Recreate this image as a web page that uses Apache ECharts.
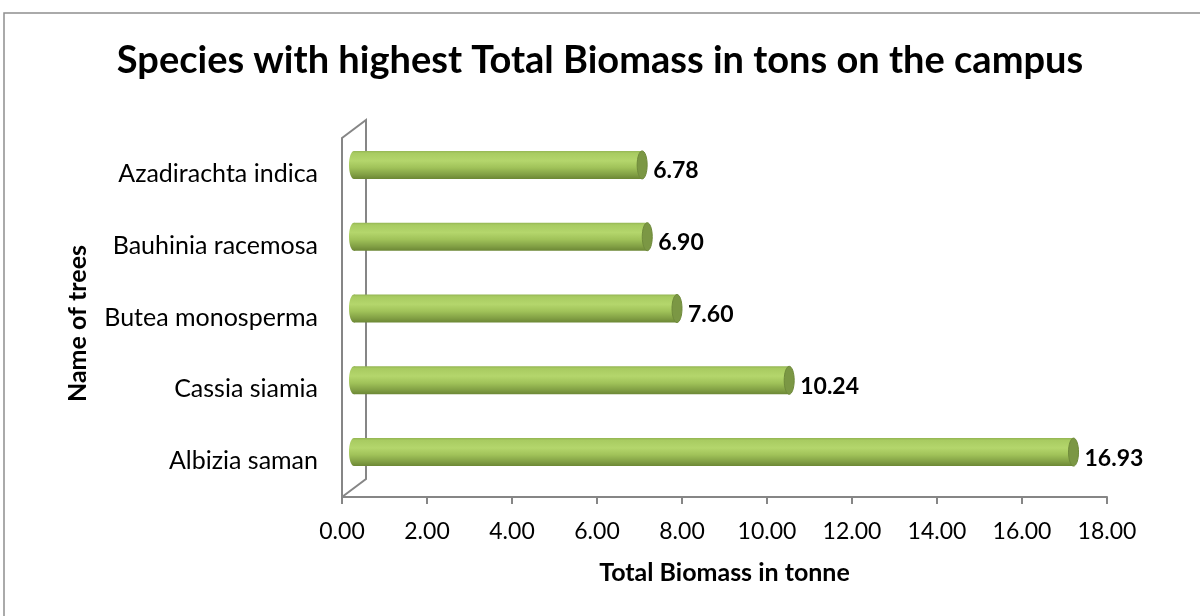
<!DOCTYPE html>
<html>
<head>
<meta charset="utf-8">
<title>Species with highest Total Biomass</title>
<script src="https://cdn.jsdelivr.net/npm/echarts@6/dist/echarts.min.js"></script>
<style>
  html, body { margin: 0; padding: 0; background: #fff; }
  #chart { width: 1200px; height: 616px; }
</style>
</head>
<body>
<div id="chart"></div>
<script>
// Tree species (bottom to top) and their total biomass in tonnes
const species = ['Albizia saman', 'Cassia siamia', 'Butea monosperma', 'Bauhinia racemosa', 'Azadirachta indica'];
const biomass = [16.93, 10.24, 7.60, 6.90, 6.78];
const titleText = 'Species with highest Total Biomass in tons on the campus';
const xAxisTitle = 'Total Biomass in tonne';
const yAxisTitle = 'Name of trees';

const FONT = 'Lato, "Open Sans", sans-serif';
const GRID = { left: 342, right: 93, top: 138, bottom: 119 };
// depth of the pseudo-3D wall (back plane offset in px)
const DEPTH_X = 24, DEPTH_Y = -18;
const BAR_H = 28, CAP_RX = 5;

const chart = echarts.init(document.getElementById('chart'), null, { renderer: 'canvas' });

const bodyGradient = new echarts.graphic.LinearGradient(0, 0, 0, 1, [
  { offset: 0, color: '#94b553' },
  { offset: 0.08, color: '#a8cb61' },
  { offset: 0.35, color: '#b4d66c' },
  { offset: 0.6, color: '#a0c259' },
  { offset: 0.85, color: '#819f44' },
  { offset: 1, color: '#6c8735' }
]);

function renderCylinder(params, api) {
  const idx = api.value(0);
  const val = api.value(1);
  const start = api.coord([0, idx]);
  const end = api.coord([val, idx]);
  const dx = DEPTH_X / 2, dy = DEPTH_Y / 2;
  const x0 = start[0] + dx, x1 = end[0] + dx;
  const cy = start[1] + dy;
  const ry = BAR_H / 2;
  return {
    type: 'group',
    children: [
      { type: 'ellipse', shape: { cx: x0, cy: cy, rx: CAP_RX, ry: ry }, style: { fill: bodyGradient } },
      { type: 'rect', shape: { x: x0, y: cy - ry, width: x1 - x0, height: BAR_H }, style: { fill: bodyGradient } },
      { type: 'ellipse', shape: { cx: x1, cy: cy, rx: CAP_RX, ry: ry },
        style: { fill: '#7b9744', stroke: '#6f8a3b', lineWidth: 1 } },
      { type: 'text', x: x1 + CAP_RX + 6, y: cy + 6,
        style: { text: val.toFixed(2), fill: '#000', font: 'bold 23px ' + FONT,
                 textAlign: 'left', textVerticalAlign: 'middle' } }
    ]
  };
}

const option = {
  animation: false,
  backgroundColor: '#ffffff',
  title: {
    text: titleText,
    left: 'center',
    top: 37,
    textStyle: { fontFamily: FONT, fontWeight: 'bold', fontSize: 38, color: '#000' }
  },
  grid: GRID,
  xAxis: {
    type: 'value',
    min: 0, max: 18, interval: 2,
    name: xAxisTitle,
    nameLocation: 'middle',
    nameGap: 63,
    nameTextStyle: { fontFamily: FONT, fontWeight: 'bold', fontSize: 25, color: '#000' },
    axisLine: { show: true, lineStyle: { color: '#868686', width: 2 } },
    axisTick: { show: true, length: 7, lineStyle: { color: '#868686', width: 2 } },
    axisLabel: { fontFamily: FONT, fontSize: 23, color: '#000', margin: 23,
                 formatter: v => v.toFixed(2) },
    splitLine: { show: false }
  },
  yAxis: {
    type: 'category',
    data: species,
    name: yAxisTitle,
    nameLocation: 'middle',
    nameRotate: 90,
    nameGap: 252,
    nameTextStyle: { fontFamily: FONT, fontWeight: 'bold', fontSize: 25, color: '#000',
                     padding: [0, 12, 0, 0] },
    axisLine: { show: true, lineStyle: { color: '#868686', width: 2 } },
    axisTick: { show: false },
    axisLabel: { fontFamily: FONT, fontSize: 25, color: '#000', margin: 24 },
    splitLine: { show: false }
  },
  series: [{
    type: 'custom',
    renderItem: renderCylinder,
    encode: { x: 1, y: 0 },
    data: biomass.map((v, i) => [i, v]),
    clip: false
  }]
};

chart.setOption(option);

// Wall of the pseudo-3D plot area and the outer frame
const gridRect = chart.getModel().getComponent('grid', 0).coordinateSystem.getRect();
const frontTop = [gridRect.x, gridRect.y];
const frontBottom = [gridRect.x, gridRect.y + gridRect.height];
const backTop = [frontTop[0] + DEPTH_X, frontTop[1] + DEPTH_Y];
const backBottom = [frontBottom[0] + DEPTH_X, frontBottom[1] + DEPTH_Y];
const wallStyle = { stroke: '#868686', lineWidth: 2, fill: null };

chart.setOption({
  graphic: [
    { type: 'rect', shape: { x: 4, y: 13, width: 1300, height: 800 },
      style: { stroke: '#8f8f8f', lineWidth: 1.5, fill: null }, silent: true, z: -1 },
    { type: 'polyline', shape: { points: [frontTop, backTop, backBottom, frontBottom] },
      style: wallStyle, silent: true, z: 0 }
  ]
});
</script>
</body>
</html>
